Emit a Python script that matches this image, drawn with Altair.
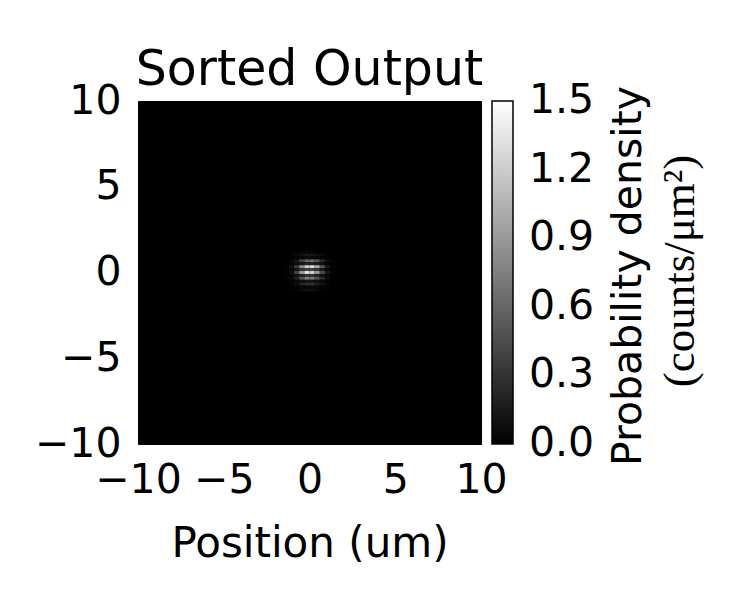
import altair as alt
import pandas as pd

# ---- data ----
x_centers = [-1.35, -1.05, -0.75, -0.45, -0.15, 0.15, 0.45, 0.75, 1.05, 1.35]
y_centers = [1.19, 1.02, 0.85, 0.68, 0.51, 0.34, 0.17, 0.0, -0.17, -0.34, -0.51, -0.68, -0.85, -1.02]
cell_w = 0.3
cell_h = 0.17
intensity = [
    [0.00, 0.01, 0.01, 0.02, 0.03, 0.03, 0.02, 0.01, 0.01, 0.00],
    [0.00, 0.02, 0.05, 0.10, 0.15, 0.15, 0.10, 0.05, 0.02, 0.00],
    [0.00, 0.01, 0.03, 0.05, 0.06, 0.06, 0.05, 0.03, 0.01, 0.00],
    [0.01, 0.05, 0.15, 0.40, 0.60, 0.65, 0.50, 0.25, 0.08, 0.02],
    [0.01, 0.03, 0.08, 0.15, 0.20, 0.20, 0.15, 0.08, 0.03, 0.01],
    [0.02, 0.10, 0.35, 0.80, 1.20, 1.30, 1.00, 0.50, 0.15, 0.03],
    [0.01, 0.05, 0.15, 0.30, 0.40, 0.40, 0.30, 0.15, 0.05, 0.01],
    [0.02, 0.10, 0.40, 0.90, 1.35, 1.25, 0.90, 0.45, 0.15, 0.03],
    [0.01, 0.04, 0.10, 0.20, 0.30, 0.30, 0.20, 0.10, 0.04, 0.01],
    [0.01, 0.06, 0.20, 0.50, 0.75, 0.70, 0.50, 0.25, 0.08, 0.02],
    [0.00, 0.02, 0.05, 0.10, 0.12, 0.12, 0.10, 0.05, 0.02, 0.00],
    [0.00, 0.03, 0.08, 0.20, 0.30, 0.30, 0.20, 0.10, 0.03, 0.00],
    [0.00, 0.01, 0.02, 0.04, 0.05, 0.05, 0.04, 0.02, 0.01, 0.00],
    [0.00, 0.01, 0.03, 0.06, 0.10, 0.10, 0.06, 0.03, 0.01, 0.00],
]
axis_ticks = [-10, -5, 0, 5, 10]
cbar_ticks = [0.0, 0.3, 0.6, 0.9, 1.2, 1.5]
cbar_inner_ticks = [0.3, 0.6, 0.9, 1.2]
title_text = "Sorted Output"
xlabel_text = "Position (um)"
cbar_label1 = "Probability density"
cbar_label2 = "(counts/μm²)"

rows = []
for j, yc in enumerate(y_centers):
    for i, xc in enumerate(x_centers):
        rows.append({
            "x0": xc - cell_w / 2, "x1": xc + cell_w / 2,
            "y0": yc - cell_h / 2, "y1": yc + cell_h / 2,
            "v": intensity[j][i],
        })
df = pd.DataFrame(rows)

FONT = "DejaVu Sans"
W = 343
H = 343
CB_X = 354      # colorbar left, relative to plot area
CB_T = 21       # colorbar thickness

xscale = alt.Scale(domain=[-10, 10], nice=False, zero=False)
yscale = alt.Scale(domain=[-10, 10], nice=False, zero=False)

heat = alt.Chart(df).mark_rect(strokeWidth=0).encode(
    x=alt.X("x0:Q", scale=xscale,
            axis=alt.Axis(values=axis_ticks, title=xlabel_text, grid=False, ticks=False, tickSize=0,
                          domain=False, labelFontSize=41, labelFont=FONT, labelColor="black",
                          labelPadding=16, labelFlush=False, labelOverlap=False,
                          titleFontSize=42, titleFont=FONT, titleFontWeight="normal",
                          titleColor="black", titleBaseline="alphabetic", titleY=112)),
    x2="x1:Q",
    y=alt.Y("y0:Q", scale=yscale,
            axis=alt.Axis(values=axis_ticks, title=None, grid=False, ticks=False, tickSize=0,
                          domain=False, labelFontSize=41, labelFont=FONT, labelColor="black",
                          labelPadding=17, labelFlush=False, labelOverlap=False)),
    y2="y1:Q",
    color=alt.Color("v:Q",
                    scale=alt.Scale(domain=[0, 1.5], range=["#000000", "#ffffff"], interpolate="rgb"),
                    legend=alt.Legend(title=None, orient="none", legendX=CB_X, legendY=0,
                                      direction="vertical", gradientLength=H, gradientThickness=CB_T,
                                      gradientStrokeColor="black", gradientStrokeWidth=1.5,
                                      labelOpacity=0, labelFontSize=1, padding=0, zindex=0)),
)

tick_df = pd.DataFrame({"v": cbar_inner_ticks})
cbar_rules = alt.Chart(tick_df).transform_calculate(
    ty="-10 + datum.v * 20 / 1.5"
).mark_rule(color="black", strokeWidth=1.2).encode(
    y=alt.Y("ty:Q", scale=yscale),
    x=alt.value(CB_X),
    x2=alt.value(CB_X + CB_T),
)

cbar_labels = alt.Chart(pd.DataFrame({"v": cbar_ticks})).transform_calculate(
    ty="-10 + datum.v * 20 / 1.5"
).mark_text(font=FONT, fontSize=41, color="black", align="left", baseline="middle").encode(
    y=alt.Y("ty:Q", scale=yscale),
    x=alt.value(CB_X + CB_T + 16),
    text=alt.Text("v:Q", format=".1f"),
)

title = alt.Chart(pd.DataFrame({"t": [title_text]})).mark_text(
    font=FONT, fontSize=49, color="black", align="center", baseline="alphabetic"
).encode(text="t:N", x=alt.value(W / 2), y=alt.value(-16))

lab1 = alt.Chart(pd.DataFrame({"t": [cbar_label1]})).mark_text(
    angle=270, font=FONT, fontSize=41, color="black", align="center", baseline="middle"
).encode(text="t:N", x=alt.value(491), y=alt.value(175))

lab2 = alt.Chart(pd.DataFrame({"t": [cbar_label2]})).mark_text(
    angle=270, font="Liberation Serif", fontSize=45, color="black", align="center", baseline="middle"
).encode(text="t:N", x=alt.value(542), y=alt.value(170))

chart = alt.layer(heat, cbar_rules, cbar_labels, title, lab1, lab2).properties(
    width=W, height=H,
    autosize=alt.AutoSizeParams(type="none"),
    padding={"left": 130, "top": 93, "right": 261, "bottom": 148},
).configure_view(fill="black", stroke="black", strokeWidth=1)

chart.save("out.html", embed_options={"renderer": "svg", "actions": False})
